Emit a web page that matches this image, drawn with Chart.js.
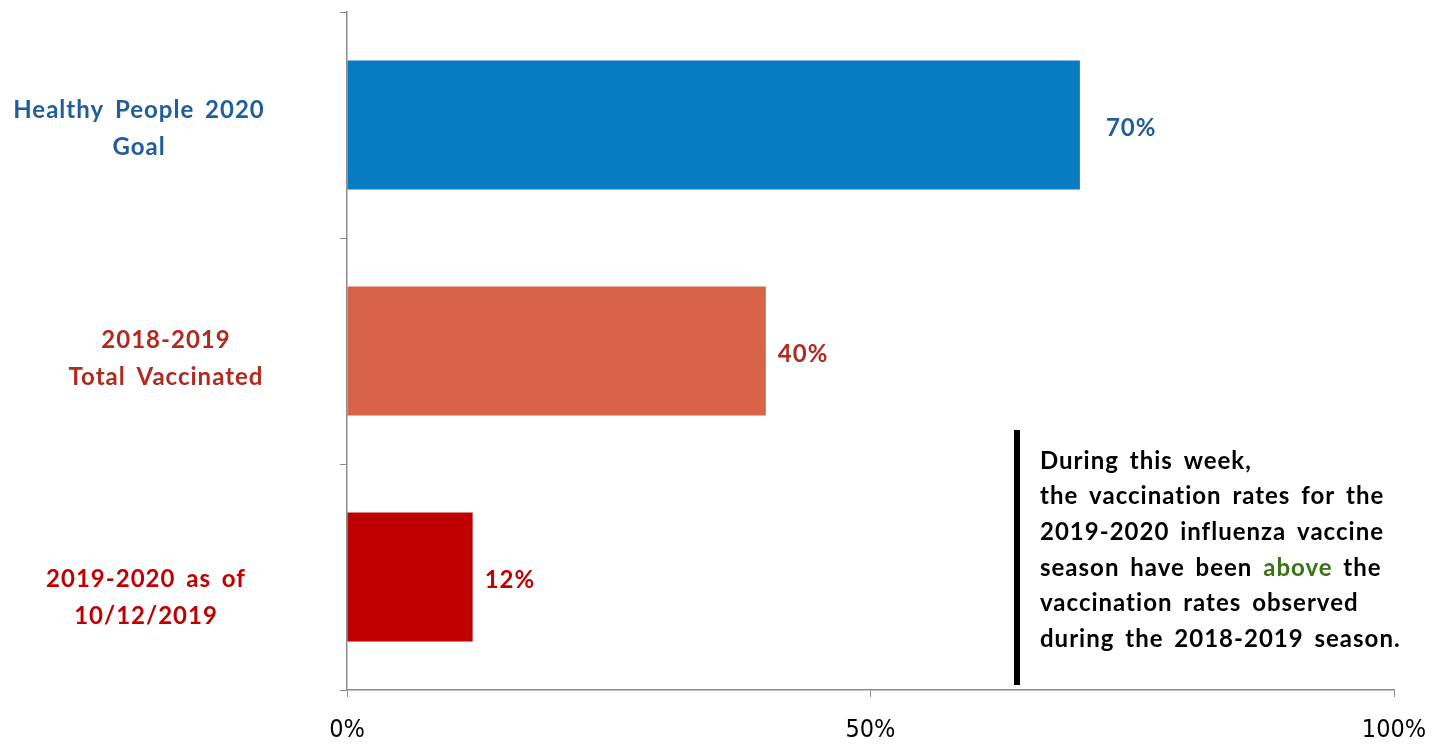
<!DOCTYPE html>
<html>
<head>
<meta charset="utf-8">
<script src="https://cdn.jsdelivr.net/npm/chart.js@4"></script>
<style>
  html, body { margin: 0; padding: 0; background: #fff; }
  #wrap { width: 1447px; height: 744px; position: relative; }
</style>
</head>
<body>
<div id="wrap"><canvas id="c"></canvas></div>
<script>
"use strict";
// --- data ---------------------------------------------------------------- #
const categories = [["Healthy People 2020", "Goal"], ["2018-2019", "Total Vaccinated"], ["2019-2020 as of", "10/12/2019"]];
const values = [70, 40, 12];
const barColors = ["#077CC3", "#D76349", "#C00000"];
const textColors = ["#1F5E9A", "#B02A1F", "#C00000"];
const xTicks = [0, 50, 100];
const note = [
  [["During this week,"]],
  [["the vaccination rates for the"]],
  [["2019-2020 influenza vaccine"]],
  [["season have been "], ["above", "#3A7317"], [" the"]],
  [["vaccination rates observed"]],
  [["during the 2018-2019 season."]],
];

const BOLD = "bold 24px Lato, 'Open Sans', sans-serif";
const spaced = ctx => { ctx.font = BOLD; ctx.letterSpacing = "1px"; ctx.wordSpacing = "4px"; };

// category labels drawn left of the axis, centred per label
const catLabels = {
  id: "catLabels",
  afterDraw(ch) {
    const ctx = ch.ctx, y = ch.scales.y;
    const cx = [139, 166, 146], dy = [4, 8, 21];
    ctx.save();
    spaced(ctx);
    ctx.textAlign = "center";
    ctx.textBaseline = "middle";
    categories.forEach((lines, i) => {
      const mid = y.getPixelForValue(i) + dy[i];
      ctx.fillStyle = textColors[i];
      lines.forEach((t, j) => ctx.fillText(t, cx[i], mid + (j - (lines.length - 1) / 2) * 37));
    });
    ctx.restore();
  }
};

// value labels at bar ends
const valLabels = {
  id: "valLabels",
  afterDatasetsDraw(ch) {
    const ctx = ch.ctx, meta = ch.getDatasetMeta(0);
    const gap = [26, 12, 12];
    ctx.save();
    spaced(ctx);
    ctx.textAlign = "left";
    ctx.textBaseline = "middle";
    meta.data.forEach((b, i) => {
      ctx.fillStyle = textColors[i];
      ctx.fillText(values[i] + "%", b.x + gap[i], b.y + 3);
    });
    ctx.restore();
  }
};

// side note with black bar
const sideNote = {
  id: "sideNote",
  afterDraw(ch) {
    const ctx = ch.ctx;
    ctx.save();
    ctx.fillStyle = "#000";
    ctx.fillRect(1014, 430, 6, 255);
    spaced(ctx);
    ctx.textBaseline = "middle";
    note.forEach((parts, i) => {
      let x = 1040;
      const yy = 461 + i * 35.6;
      parts.forEach(([t, col]) => {
        ctx.fillStyle = col || "#000";
        ctx.fillText(t, x, yy);
        x += ctx.measureText(t).width;
      });
    });
    ctx.restore();
  }
};

new Chart(document.getElementById("c"), {
  type: "bar",
  data: {
    labels: categories.map(c => c.join(" ")),
    datasets: [{ data: values, backgroundColor: barColors, barPercentage: 0.57, categoryPercentage: 1 }]
  },
  options: {
    indexAxis: "y",
    responsive: true,
    maintainAspectRatio: false,
    animation: false,
    layout: { padding: { top: 12, right: 53, left: 0, bottom: 0 } },
    plugins: { legend: { display: false }, tooltip: { enabled: false } },
    scales: {
      x: {
        min: 0, max: 100,
        afterBuildTicks: s => { s.ticks = xTicks.map(v => ({ value: v })); },
        afterFit: s => { s.height = 54; },
        ticks: { callback: v => v + "%", color: "#000", padding: 18, maxRotation: 0,
                 font: { family: "'Liberation Sans Narrow', 'DejaVu Sans Condensed', sans-serif", size: 25 } },
        grid: { drawOnChartArea: false, tickLength: 7, color: "#8c8c8c" },
        border: { color: "#8c8c8c", width: 1.5 }
      },
      y: {
        afterFit: s => { s.width = 347; },
        ticks: { display: false },
        grid: { drawOnChartArea: false, tickLength: 7, color: "#8c8c8c", offset: true },
        border: { color: "#8c8c8c", width: 1.5 }
      }
    }
  },
  plugins: [catLabels, valLabels, sideNote]
});
</script>
</body>
</html>
